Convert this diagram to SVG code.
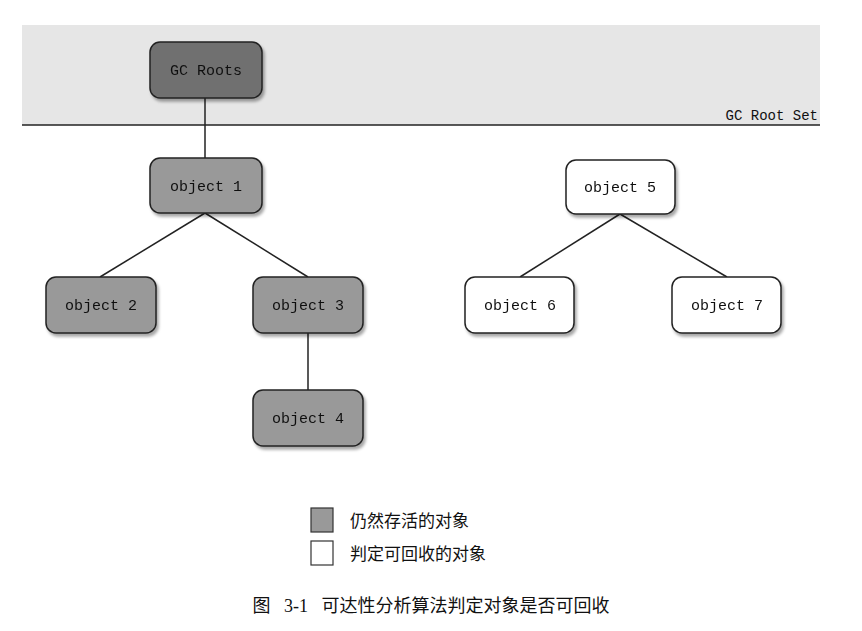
<svg xmlns="http://www.w3.org/2000/svg" width="862" height="631" viewBox="0 0 862 631">
<style>
.n rect{stroke:#222;stroke-width:1.5}
.g rect{fill:#999}
.w rect{fill:#fff}
.n text{font-family:"Liberation Mono",monospace;font-size:15px;text-anchor:middle;fill:#111}
.c line{stroke:#222;stroke-width:1.5}
.cn{font-family:"Liberation Sans","Noto Sans CJK SC",sans-serif;fill:#111}
</style>
<defs><filter id="s" x="-10%" y="-10%" width="130%" height="140%"><feDropShadow dx="2" dy="3" stdDeviation="1.5" flood-color="#000" flood-opacity="0.35"/></filter></defs>
<rect width="862" height="631" fill="#fff"/>
<rect x="22" y="25" width="798" height="100" fill="#e6e6e6"/>
<line x1="22" y1="125" x2="820" y2="125" stroke="#222" stroke-width="1.5"/>
<text x="818" y="120" font-family="Liberation Mono,monospace" font-size="14" text-anchor="end" fill="#111">GC Root Set</text>
<g class="c">
<line x1="205" y1="98" x2="205" y2="158"/>
<line x1="205" y1="213" x2="100" y2="277"/>
<line x1="205" y1="213" x2="308" y2="277"/>
<line x1="308" y1="333" x2="308" y2="390"/>
<line x1="620" y1="214" x2="520" y2="277"/>
<line x1="620" y1="214" x2="727" y2="277"/>
</g>
<g id="gcroots" class="n" filter="url(#s)"><rect x="150" y="42" width="112" height="56" rx="10" fill="#707070"/><text x="206" y="75">GC Roots</text></g>
<g id="object1" class="n g" filter="url(#s)"><rect x="150" y="158" width="112" height="55" rx="10"/><text x="206" y="191">object 1</text></g>
<g id="object2" class="n g" filter="url(#s)"><rect x="46" y="277" width="110" height="56" rx="10"/><text x="101" y="310">object 2</text></g>
<g id="object3" class="n g" filter="url(#s)"><rect x="253" y="277" width="110" height="56" rx="10"/><text x="308" y="310">object 3</text></g>
<g id="object4" class="n g" filter="url(#s)"><rect x="253" y="390" width="110" height="56" rx="10"/><text x="308" y="423">object 4</text></g>
<g id="object5" class="n w" filter="url(#s)"><rect x="566" y="160" width="109" height="54" rx="10"/><text x="620" y="192">object 5</text></g>
<g id="object6" class="n w" filter="url(#s)"><rect x="465" y="277" width="109" height="56" rx="10"/><text x="520" y="310">object 6</text></g>
<g id="object7" class="n w" filter="url(#s)"><rect x="672" y="277" width="109" height="56" rx="10"/><text x="727" y="310">object 7</text></g>
<g id="legend">
<rect x="311" y="508" width="22" height="24" fill="#999" stroke="#333" stroke-width="1.2"/>
<rect x="311" y="541" width="22" height="24" fill="#fff" stroke="#333" stroke-width="1.2"/>
<text class="cn" x="350" y="527" font-size="17">仍然存活的对象</text>
<text class="cn" x="350" y="560" font-size="17">判定可回收的对象</text>
</g>
<text x="431" y="612" font-family="Liberation Serif,Noto Sans CJK SC,serif" font-size="18" text-anchor="middle" fill="#111" xml:space="preserve">图   3-1   可达性分析算法判定对象是否可回收</text>
</svg>
